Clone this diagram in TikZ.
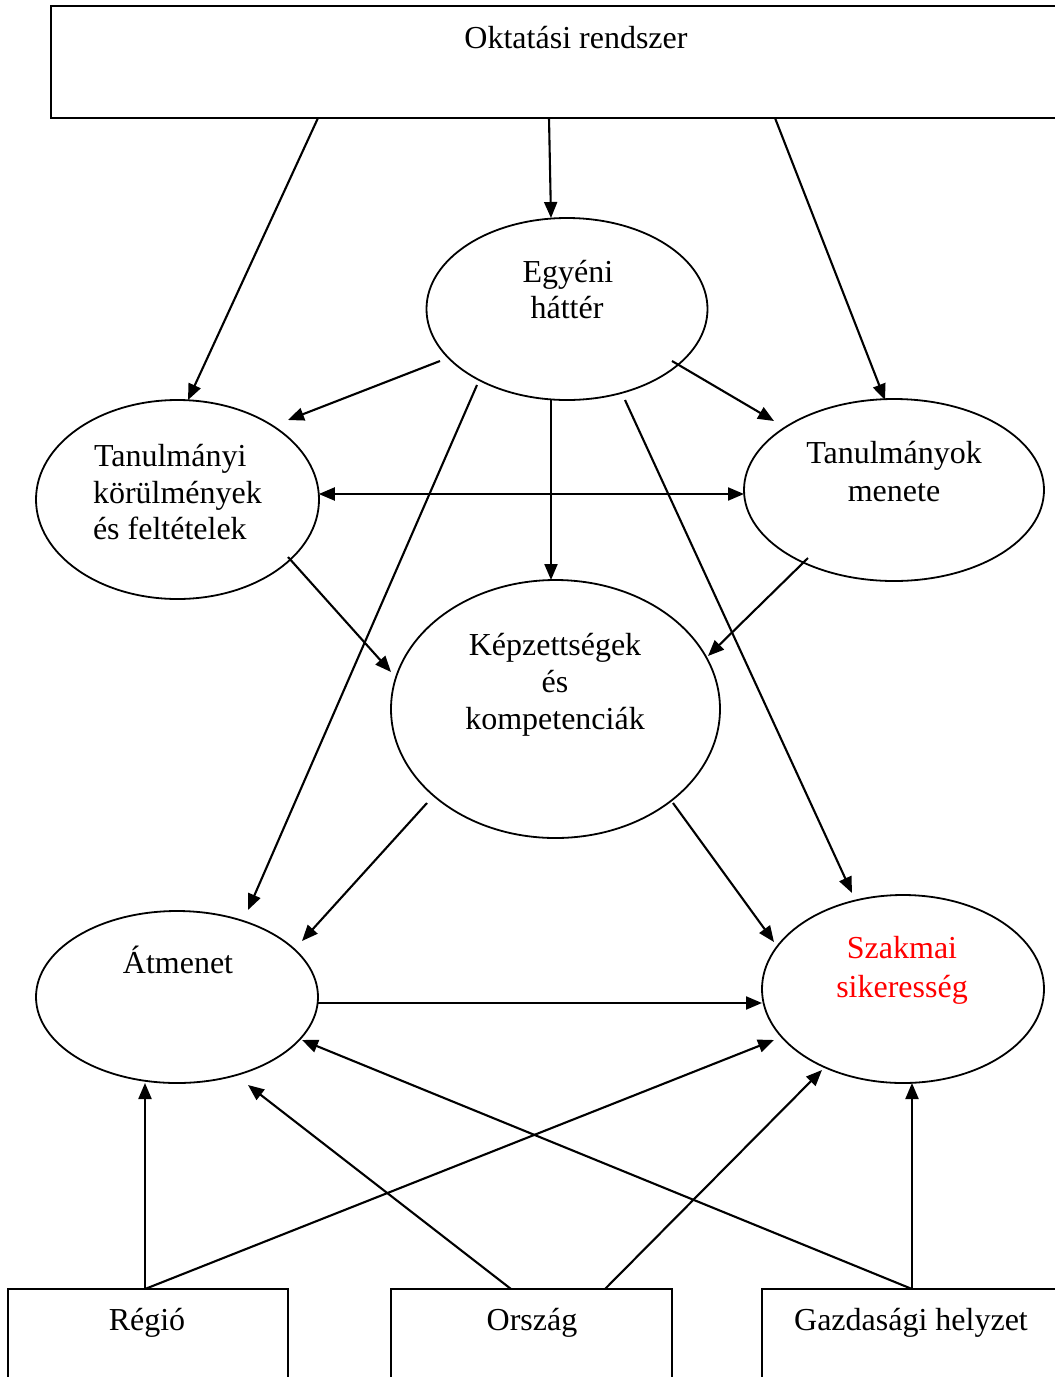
\documentclass[tikz,border=0pt]{standalone}
\usepackage{fontspec}
\setmainfont{Liberation Serif}
\usetikzlibrary{shapes.geometric,arrows.meta,calc}
\begin{document}
\begin{tikzpicture}[x=1pt,y=-1pt,
  every node/.style={inner sep=0pt, outer sep=0pt},
  ell/.style={ellipse, draw, line width=1.8pt},
  box/.style={rectangle, draw, line width=1.8pt},
  txt/.style={anchor=base, font=\fontsize{32}{37}\selectfont},
  arr/.style={line width=2.1pt, -{Triangle[length=16pt,width=13pt]}},
  arrboth/.style={line width=2.1pt, {Triangle[length=16pt,width=13pt]}-{Triangle[length=16pt,width=13pt]}},
]
\useasboundingbox (0,0) rectangle (1055,1377);
% boxes and ellipses
\node[box, minimum width=1011, minimum height=112] (O) at (556.5,62) {};
\node[ell, minimum width=281, minimum height=182] (E) at (567,309) {};
\node[ell, minimum width=283, minimum height=199] (T) at (177.5,499.5) {};
\node[ell, minimum width=300, minimum height=182] (M) at (894,490) {};
\node[ell, minimum width=329, minimum height=258] (K) at (555.5,709) {};
\node[ell, minimum width=282, minimum height=172] (A) at (177,997) {};
\node[ell, minimum width=282, minimum height=188] (S) at (903,989) {};
\node[box, minimum width=280, minimum height=102] (R) at (148,1340) {};
\node[box, minimum width=281, minimum height=102] (C) at (531.5,1340) {};
\node[box, minimum width=300, minimum height=102] (G) at (912,1340) {};
% texts
\node[txt] (tO) at (576,48) {Oktatási rendszer};
\node[txt] (tE1) at (568,282) {Egyéni};
\node[txt] (tE2) at (567,318) {háttér};
\node[txt, anchor=base west] (tT1) at (94,466) {Tanulmányi};
\node[txt, anchor=base west] (tT2) at (93,503) {körülmények};
\node[txt, anchor=base west] (tT3) at (93,539) {és feltételek};
\node[txt] (tM1) at (894,463) {Tanulmányok};
\node[txt] (tM2) at (894,501) {menete};
\node[txt] (tK1) at (555,655) {Képzettségek};
\node[txt] (tK2) at (555,692) {és};
\node[txt] (tK3) at (555,729) {kompetenciák};
\node[txt] (tA) at (178,973) {Átmenet};
\node[txt, text=red] (tS1) at (902,958) {Szakmai};
\node[txt, text=red] (tS2) at (902,997) {sikeresség};
\node[txt] (tR) at (147,1330) {Régió};
\node[txt] (tC) at (532,1330) {Ország};
\node[txt] (tG) at (911,1330) {Gazdasági helyzet};
% connectors
\draw[arr] ($(O.south)+(-238.5,0)$) -- ($(T)+(10.5,-99.5)$);
\draw[arr] ($(O.south)+(-7.5,0)$) -- ($(E)+(-16,-91)$);
\draw[arr] ($(O.south)+(218.5,0)$) -- ($(M)+(-9,-90)$);
\draw[arr] ($(E)+(-127,52)$) -- ($(T)+(110.5,-79.5)$);
\draw[arr] ($(E)+(105,52)$) -- ($(M)+(-120,-69)$);
\draw[arr] ($(E)+(-90,76)$) -- ($(A)+(71,-87)$);
\draw[arr] ($(E)+(-16,91)$) -- ($(K)+(-4.5,-129)$);
\draw[arr] ($(E)+(58,91)$) -- ($(S)+(-51,-96)$);
\draw[arrboth] ($(T)+(141.3,-5.5)$) coordinate (tb) -- (tb -| M.west);
\draw[arr] ($(T)+(110.5,57.5)$) -- ($(K)+(-164.5,-37)$);
\draw[arr] ($(M)+(-86,68)$) -- ($(K)+(152.5,-53)$);
\draw[arr] ($(K)+(-128.5,94)$) -- ($(A)+(125,-56)$);
\draw[arr] ($(K)+(117.5,94)$) -- ($(S)+(-129,-47)$);
\draw[arr] ($(A)+(140.7,6)$) coordinate (ab) -- (ab -| S.west);
\draw[arr] ($(R.north)+(-3,0)$) coordinate (rs) -- (rs |- A.south);
\draw[arr] (rs) -- ($(S)+(-129,51)$);
\draw[arr] ($(C.north)+(-20.5,0)$) -- ($(A)+(71,88)$);
\draw[arr] ($(C.north)+(73.5,0)$) -- ($(S)+(-81,81)$);
\draw[arr] (G.north) -- ($(A)+(125,43)$);
\draw[arr] (G.north) -- (G.north |- S.south);
\end{tikzpicture}
\end{document}
